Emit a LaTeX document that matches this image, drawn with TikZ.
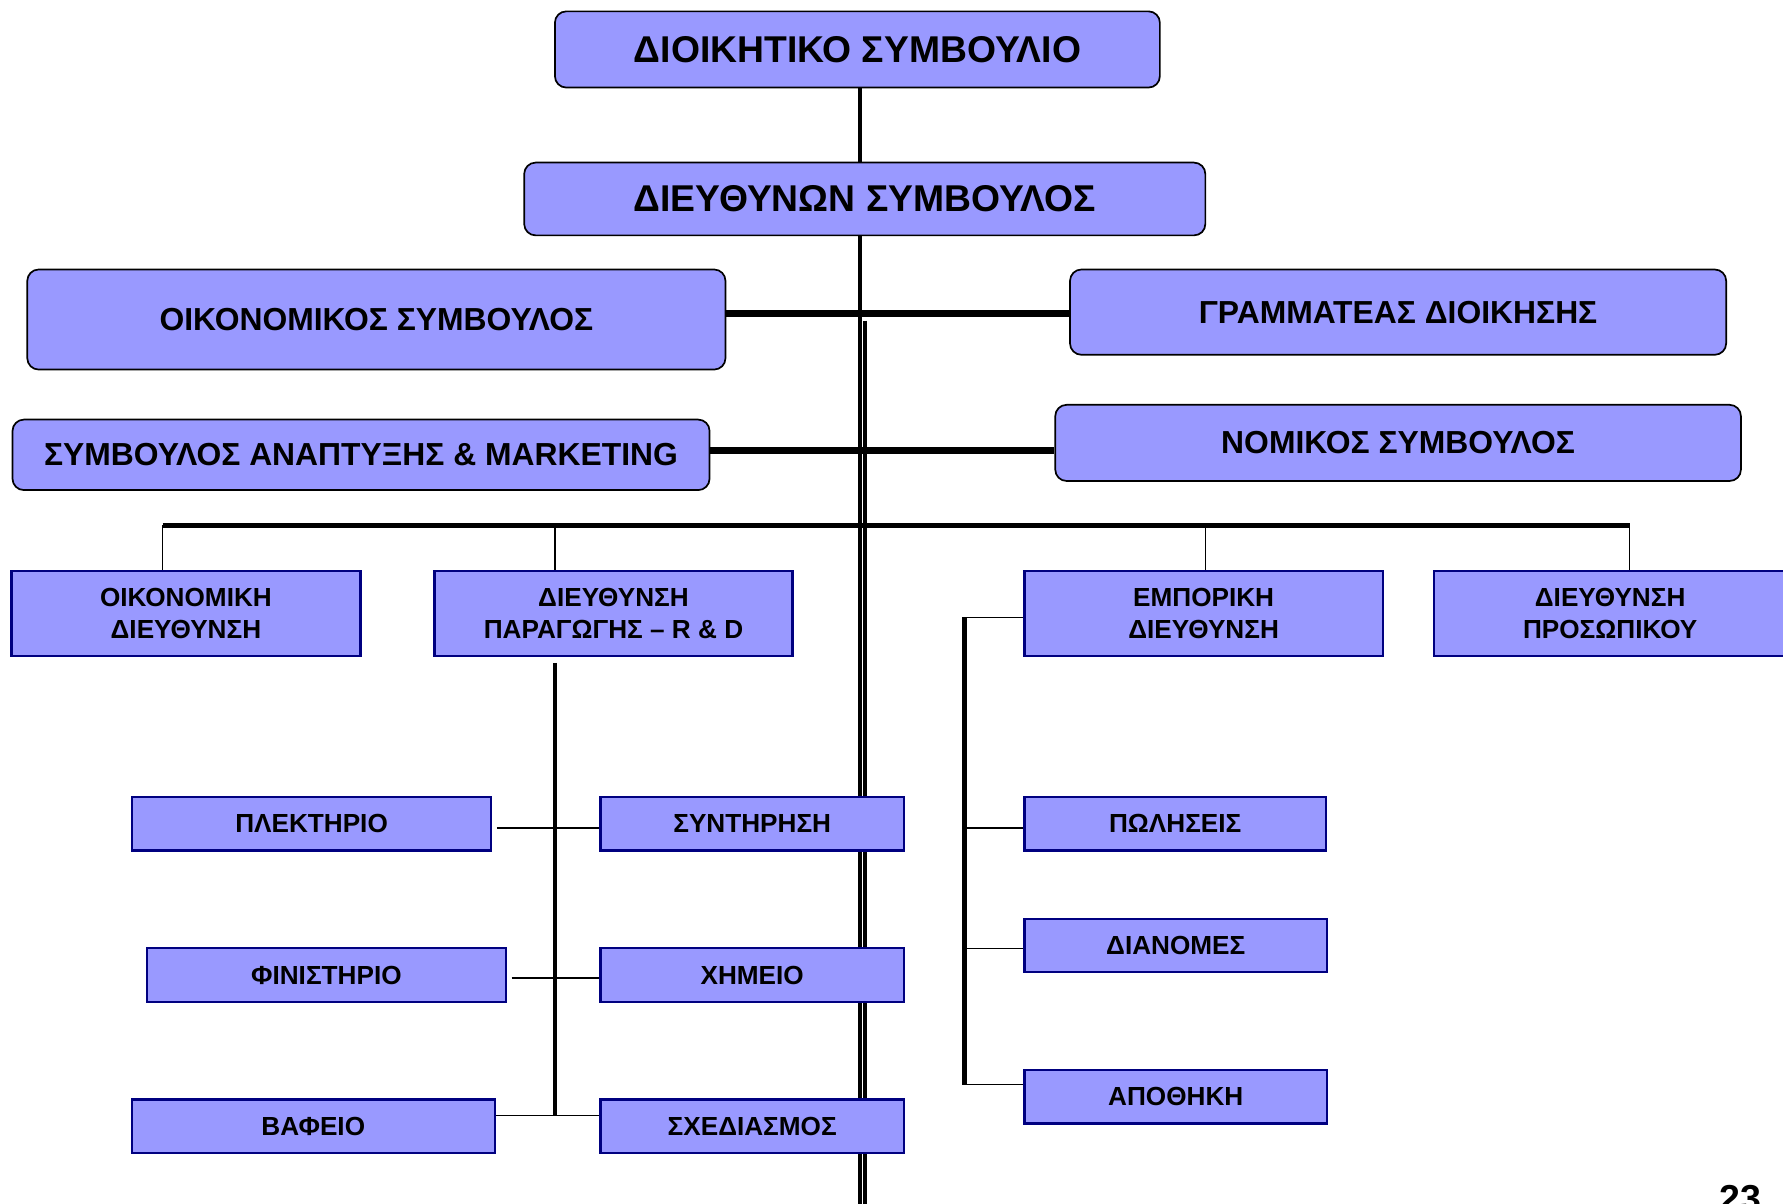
\documentclass[tikz,border=0pt]{standalone}
\usepackage{fontspec}
\setmainfont{Liberation Sans}
\usetikzlibrary{backgrounds}
\definecolor{boxfill}{HTML}{9999FF}
\definecolor{navyline}{HTML}{000080}
\tikzset{
  topbox/.style={draw=black, line width=0.75pt, fill=boxfill, rounded corners=5pt, inner sep=0pt, align=center, font=\bfseries\fontsize{16.4}{20}\selectfont},
  midbox/.style={topbox, font=\bfseries\fontsize{14}{17}\selectfont},
  unitbox/.style={draw=navyline, line width=1pt, fill=boxfill, inner sep=0pt, align=center, font=\bfseries\fontsize{11.5}{14}\selectfont},
  spine/.style={line width=1.75pt},
  subspine/.style={line width=2pt},
  bar/.style={line width=3pt},
  barthree/.style={line width=2.5pt},
  link/.style={line width=0.6pt},
}
\begin{document}
\begin{tikzpicture}[x=0.5pt,y=-0.5pt]
\useasboundingbox (0,0) rectangle (1568,1058);
% top level
\node[topbox, minimum width=266pt, minimum height=33.5pt] (board) at (754,43.5) {ΔΙΟΙΚΗΤΙΚΟ ΣΥΜΒΟΥΛΙΟ};
\node[topbox, minimum width=299.5pt, minimum height=32pt] (ceo) at (760.5,175) {ΔΙΕΥΘΥΝΩΝ ΣΥΜΒΟΥΛΟΣ};
\node[midbox, minimum width=307pt, minimum height=44pt] (econ) at (331,281) {ΟΙΚΟΝΟΜΙΚΟΣ ΣΥΜΒΟΥΛΟΣ};
\node[midbox, minimum width=288.5pt, minimum height=37.5pt] (secr) at (1229.5,274.5) {ΓΡΑΜΜΑΤΕΑΣ ΔΙΟΙΚΗΣΗΣ};
\node[midbox, minimum width=306.5pt, minimum height=31pt] (mkt) at (317.5,400) {ΣΥΜΒΟΥΛΟΣ ΑΝΑΠΤΥΞΗΣ \& MARKETING};
\node[midbox, minimum width=301.5pt, minimum height=33.5pt] (legal) at (1229.5,389.5) {ΝΟΜΙΚΟΣ ΣΥΜΒΟΥΛΟΣ};
% directorates
\node[unitbox, minimum width=153.5pt, minimum height=37.5pt] (fin) at (163.5,539.5) {ΟΙΚΟΝΟΜΙΚΗ\\ΔΙΕΥΘΥΝΣΗ};
\node[unitbox, minimum width=157.5pt, minimum height=37.5pt] (prod) at (539.5,539.5) {ΔΙΕΥΘΥΝΣΗ\\ΠΑΡΑΓΩΓΗΣ – R \& D};
\node[unitbox, minimum width=157.5pt, minimum height=37.5pt] (comm) at (1058.5,539.5) {ΕΜΠΟΡΙΚΗ\\ΔΙΕΥΘΥΝΣΗ};
\node[unitbox, minimum width=155pt, minimum height=37.5pt] (hr) at (1416,539.5) {ΔΙΕΥΘΥΝΣΗ\\ΠΡΟΣΩΠΙΚΟΥ};
% production units
\node[unitbox, minimum width=158pt, minimum height=23.5pt] (plek) at (274,724.5) {ΠΛΕΚΤΗΡΙΟ};
\node[unitbox, minimum width=133.5pt, minimum height=23.5pt] (synt) at (661.5,724.5) {ΣΥΝΤΗΡΗΣΗ};
\node[unitbox, minimum width=158pt, minimum height=23.5pt] (finis) at (287,857.5) {ΦΙΝΙΣΤΗΡΙΟ};
\node[unitbox, minimum width=133.5pt, minimum height=23.5pt] (chem) at (661.5,857.5) {ΧΗΜΕΙΟ};
\node[unitbox, minimum width=159.5pt, minimum height=23.5pt] (vaf) at (275.5,990.5) {ΒΑΦΕΙΟ};
\node[unitbox, minimum width=133.5pt, minimum height=23.5pt] (sxed) at (661.5,990.5) {ΣΧΕΔΙΑΣΜΟΣ};
% commercial units
\node[unitbox, minimum width=132.5pt, minimum height=23.5pt] (pol) at (1033.5,724.5) {ΠΩΛΗΣΕΙΣ};
\node[unitbox, minimum width=133pt, minimum height=23.5pt] (dian) at (1034,831.5) {ΔΙΑΝΟΜΕΣ};
\node[unitbox, minimum width=133pt, minimum height=23.5pt] (apoth) at (1034,964.5) {ΑΠΟΘΗΚΗ};
% page number
\node[anchor=north west, inner sep=0pt, font=\bfseries\fontsize{16.5}{20}\selectfont] (pnum) at (1512,1042) {23};
% coordinates
\coordinate (spbot) at (756,1064);
\coordinate (sptwo) at (761,282);
\coordinate (sptwobot) at (761,1064);
\coordinate (ya) at (0,276);
\coordinate (yb) at (0,396);
\coordinate (ba) at (143,462);
\coordinate (bb) at (488,462);
\coordinate (bc) at (1060,462);
\coordinate (bd) at (1433,462);
\coordinate (pvtop) at (488,583);
\coordinate (pvbot) at (488,981);
\coordinate (cvtop) at (848,543);
\coordinate (cvbot) at (848,954);
\begin{scope}[on background layer]
\draw[spine] (board.south -| spbot) -- (spbot);
\draw[spine] (sptwo) -- (sptwobot);
\draw[bar] (econ.east |- ya) -- (secr.west |- ya);
\draw[bar] (mkt.east |- yb) -- (legal.west |- yb);
\draw[barthree] (ba) -- (bd);
\draw[link] (ba) -- (ba |- fin.north);
\draw[link] (bb) -- (bb |- prod.north);
\draw[link] (bc) -- (bc |- comm.north);
\draw[link] (bd) -- (bd |- hr.north);
% production
\draw[subspine] (pvtop) -- (pvbot);
\draw[link] ([xshift=2pt,yshift=-1.75pt]plek.east) -- ([yshift=-1.75pt]synt.west);
\draw[link] ([xshift=2pt,yshift=-1.25pt]finis.east) -- ([yshift=-1.25pt]chem.west);
\draw[link] ([yshift=4.75pt]vaf.east) -- ([yshift=4.75pt]sxed.west);
% commercial
\draw[subspine] (cvtop) -- (cvbot);
\draw[link] (cvtop) -- (cvtop -| comm.west);
\draw[link] ([yshift=-1.75pt]pol.west -| cvtop) -- ([yshift=-1.75pt]pol.west);
\draw[link] ([yshift=-1.25pt]dian.west -| cvtop) -- ([yshift=-1.25pt]dian.west);
\draw[link] (cvbot) -- (cvbot -| apoth.west);
\end{scope}
\end{tikzpicture}
\end{document}
